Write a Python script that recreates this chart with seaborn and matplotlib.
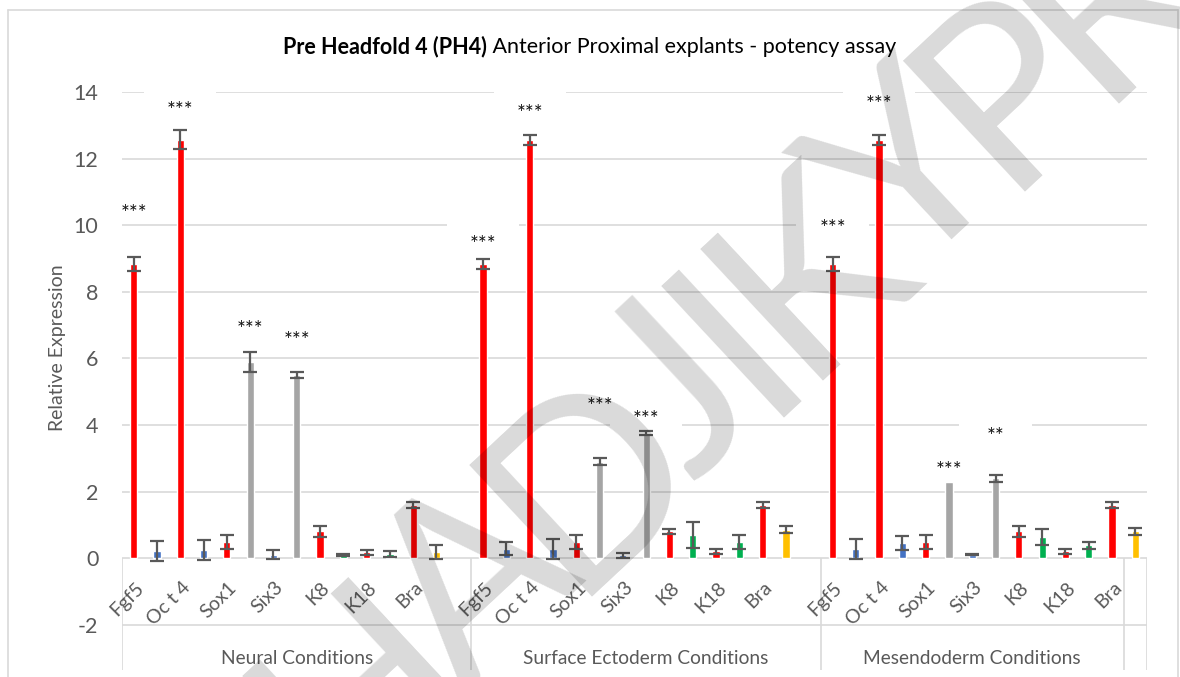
import numpy as np
import pandas as pd
import matplotlib
matplotlib.use("Agg")
import matplotlib.pyplot as plt
import seaborn as sns
from matplotlib.patches import Rectangle
from matplotlib.lines import Line2D
from matplotlib.transforms import offset_copy

# ---- data -------------------------------------------------------------
genes = ["Fgf5", "Oc t 4", "Sox1", "Six3", "K8", "K18", "Bra"]
conditions = ["Neural Conditions", "Surface Ectoderm Conditions", "Mesendoderm Conditions"]

bar_colors = ["#FF0000", "#4472C4", "#FF0000", "#4472C4", "#FF0000", "#A5A5A5", "#4472C4",
              "#A5A5A5", "#FF0000", "#00B050", "#FF0000", "#00B050", "#FF0000", "#FFC000"]

neural_vals = [8.83, 0.20, 12.57, 0.25, 0.48, 5.90, 0.10, 5.50, 0.80, 0.10, 0.17, 0.12, 1.60, 0.18]
neural_err = [0.21, 0.30, 0.28, 0.30, 0.20, 0.30, 0.14, 0.08, 0.17, 0.03, 0.08, 0.10, 0.10, 0.20]

surface_vals = [8.83, 0.28, 12.57, 0.28, 0.48, 2.90, 0.08, 3.77, 0.80, 0.70, 0.20, 0.48, 1.60, 0.85]
surface_err = [0.14, 0.20, 0.15, 0.30, 0.20, 0.10, 0.07, 0.06, 0.07, 0.40, 0.08, 0.20, 0.10, 0.10]

mesendo_vals = [8.83, 0.28, 12.57, 0.45, 0.48, 2.30, 0.10, 2.40, 0.80, 0.62, 0.20, 0.38, 1.60, 0.80]
mesendo_err = [0.21, 0.30, 0.15, 0.20, 0.20, 0.00, 0.02, 0.10, 0.17, 0.24, 0.08, 0.10, 0.10, 0.10]

# significance marks: (bar index within group, height, text)
neural_stars = [(0, 10.50, "***"), (2, 13.57, "***"), (5, 7.00, "***"), (7, 6.67, "***")]
surface_stars = [(0, 9.57, "***"), (2, 13.50, "***"), (5, 4.70, "***"), (7, 4.30, "***")]
mesendo_stars = [(0, 10.05, "***"), (2, 13.75, "***"), (5, 2.77, "***"), (7, 3.78, "**")]

y_ticks = [-2, 0, 2, 4, 6, 8, 10, 12, 14]

# ---- layout helpers ---------------------------------------------------
GROUP_STRIDE = 15
group_vals = [neural_vals, surface_vals, mesendo_vals]
group_errs = [neural_err, surface_err, mesendo_err]
group_stars = [neural_stars, surface_stars, mesendo_stars]

rows = []
for g, (vals, errs) in enumerate(zip(group_vals, group_errs)):
    for k, (v, e) in enumerate(zip(vals, errs)):
        rows.append({"pos": g * GROUP_STRIDE + k, "key": f"b{g}_{k}",
                     "value": v, "err": e, "color": bar_colors[k]})
df = pd.DataFrame(rows)
palette = dict(zip(df["key"], df["color"]))

sns.set_style("white")
plt.rcParams["font.family"] = ["Lato", "DejaVu Sans"]
plt.rcParams["axes.unicode_minus"] = False

W, H = 1180, 677
fig = plt.figure(figsize=(W / 100, H / 100), dpi=100)
ax = fig.add_axes([122 / W, 1 - 670 / H, (1147 - 122) / W, (670 - 92) / H])

GRID = "#D9D9D9"
TXT = "#595959"

sns.barplot(data=df, x="pos", y="value", hue="key", palette=palette,
            native_scale=True, width=0.31, dodge=False, legend=False,
            errorbar=None, saturation=1, ax=ax, zorder=2)

has_err = df["err"] > 0
ax.errorbar(df.loc[has_err, "pos"], df.loc[has_err, "value"], yerr=df.loc[has_err, "err"],
            fmt="none", ecolor=TXT, elinewidth=1.6, capsize=4.8, capthick=1.6, zorder=3)

x_lo, x_hi = -0.5, 43.5
y_lo, y_hi = -3.36, 14
ax.set_xlim(x_lo, x_hi)
ax.set_ylim(y_lo, y_hi)
for s in ax.spines.values():
    s.set_visible(False)
ax.grid(False)
ax.set_xlabel("")
ax.set_ylabel("")
ax.set_xticks([])
ax.set_yticks(y_ticks)
ax.tick_params(axis="y", length=0, pad=17, labelsize=15.5, labelcolor=TXT)

# horizontal gridlines
ax.hlines(y_ticks, x_lo, x_hi, color=GRID, lw=1.2, zorder=0.5)

# category box dividers below the zero line
dividers = [-0.5, 14.5, 29.5, 42.5, 43.5]
ax.vlines(dividers, y_lo, 0, color=GRID, lw=1.2, zorder=0.5)

# gene labels
for g in range(len(conditions)):
    for i, gene in enumerate(genes):
        ax.text(g * GROUP_STRIDE + 2 * i + 0.3, -0.8, gene, rotation=45,
                rotation_mode="anchor", ha="right", va="center",
                fontsize=14, color=TXT)

# condition labels
group_spans = [(-0.5, 14.5), (14.5, 29.5), (29.5, 42.5)]
for (a, b), name in zip(group_spans, conditions):
    ax.text((a + b) / 2, -3.0, name, ha="center", va="center", fontsize=13.8, color=TXT)

# significance marks with white label boxes
star_tr = offset_copy(ax.transData, fig=fig, x=0, y=-8, units="points")
for g, stars in enumerate(group_stars):
    for k, h, s in stars:
        xc = g * GROUP_STRIDE + k
        ax.add_patch(Rectangle((xc - 1.55, h - 0.36), 3.1, 0.87, facecolor="white",
                               edgecolor="none", zorder=1))
        ax.text(xc, h, s, ha="center", va="baseline", fontsize=15, color="#111111",
                transform=star_tr, zorder=4)

# y-axis title
fig.text(58 / W, 1 - 348 / H, "Relative Expression", rotation=90, ha="center",
         va="center", fontsize=14, color=TXT)

# chart title: bold lead + regular remainder
ty = 1 - 47 / H
t1 = fig.text(0, ty, "Pre Headfold 4 (PH4)", fontweight="bold", fontsize=15.5,
              ha="left", va="center", color="black")
t2 = fig.text(0, ty, " Anterior Proximal explants - potency assay", fontsize=15.5,
              ha="left", va="center", color="black")
fig.canvas.draw()
r = fig.canvas.get_renderer()
w1 = t1.get_window_extent(r).width / W
w2 = t2.get_window_extent(r).width / W
x0 = 0.5 - (w1 + w2) / 2
t1.set_x(x0)
t2.set_x(x0 + w1)

# chart area border
for xs, ys in [([8 / W, 8 / W], [0, 1 - 10 / H]),
               ([8 / W, 1178 / W], [1 - 10 / H, 1 - 10 / H]),
               ([1178 / W, 1178 / W], [0, 1 - 10 / H])]:
    fig.add_artist(Line2D(xs, ys, color=GRID, lw=1.2))

# diagonal watermark, set letter by letter with tight tracking
mark = "HADJIKYPR"
angle = 43.0
wm_size = 180
advances = []
for ch in mark:
    t = fig.text(0, 0, ch, fontsize=wm_size)
    advances.append(t.get_window_extent(r).width)
    t.remove()
centers = np.cumsum(advances) - np.array(advances) / 2
i_d, i_p = mark.index("D"), mark.index("P")
p_d = np.array([590.0, 480.0])   # pixel centre of "D"
p_p = np.array([1010.0, 90.0])   # pixel centre of "P"
scale = np.hypot(*(p_p - p_d)) / (centers[i_p] - centers[i_d])
direction = np.array([np.cos(np.radians(angle)), -np.sin(np.radians(angle))])
for ch, c in zip(mark, centers):
    px, py = p_d + (c - centers[i_d]) * scale * direction
    fig.text(px / W, 1 - py / H, ch, rotation=angle, rotation_mode="anchor",
             ha="center", va="center", fontsize=wm_size, color="black",
             alpha=0.15, zorder=10)

fig.savefig("out.png", dpi=100)
